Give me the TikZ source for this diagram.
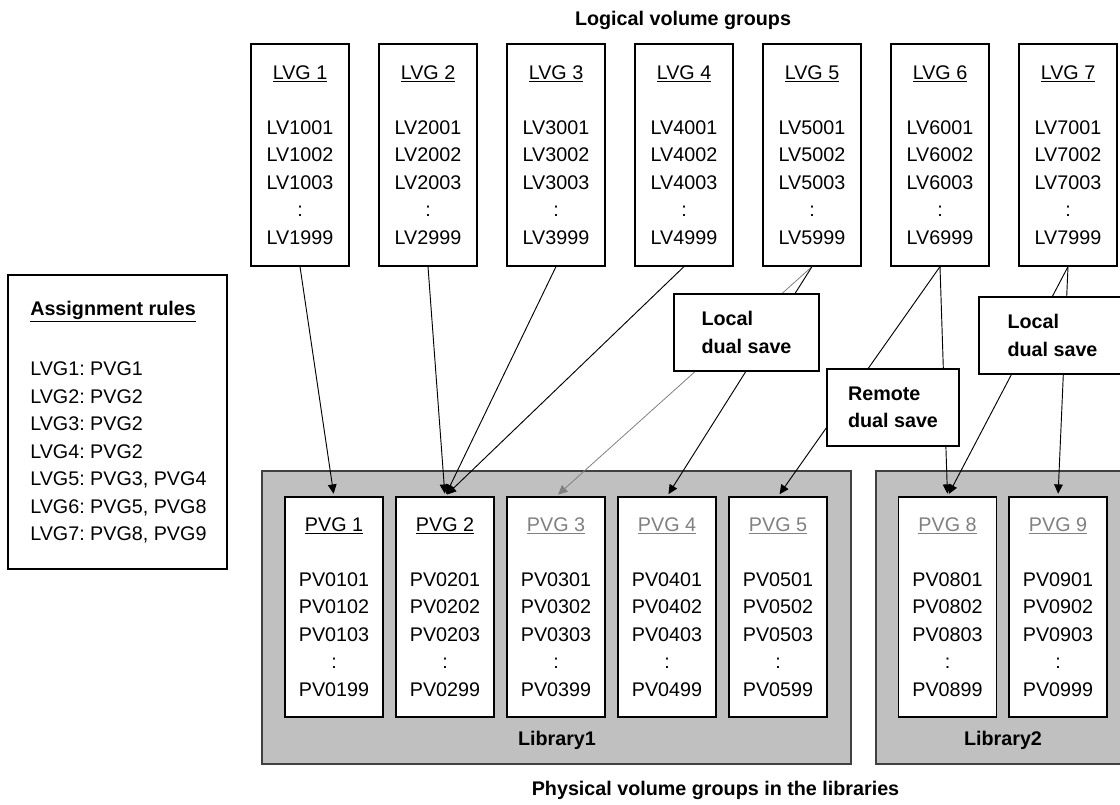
\documentclass[tikz,border=0pt]{standalone}
\usepackage{fontspec}
\setmainfont{Liberation Sans}
\usepackage{tikz}
\usetikzlibrary{arrows.meta}
\definecolor{libgrey}{RGB}{192,192,192}
\colorlet{libedge}{black!75}
\colorlet{pvgrey}{black!50}
\frenchspacing

\begin{document}
\begin{tikzpicture}[x=0.75pt,y=-0.75pt,
        txt/.style={font=\fontsize{14.8}{20.6}\selectfont},
        bold/.style={font=\fontsize{14.8}{20.6}\selectfont\bfseries},
        vgbox/.style={txt, draw, fill=white, line width=0.9pt, align=center, inner sep=0pt, minimum width=73.5pt},
        lvbox/.style={vgbox, minimum height=166.5pt},
        pvbox/.style={vgbox, minimum height=165pt},
        notebox/.style={bold, draw, fill=white, line width=1.7pt, align=left, inner sep=0pt, minimum height=57.75pt},
        conn/.style={-{Triangle[length=7pt,width=6.5pt]}, line width=0.7pt, shorten >=2pt}]
        \useasboundingbox (0,0) rectangle (1120,805);
        \node[bold] (lvtitle) at (683,20) {Logical volume groups};
        \foreach \i in {1,...,7}{
            \node[lvbox] (lvg\i) at (300+128*\i-128,155) {\underline{LVG \i}\\[20.6pt]LV\i001\\LV\i002\\LV\i003\\:\\LV\i999};
        }
        \node[draw, line width=0.9pt, inner sep=0pt, minimum width=164.25pt, minimum height=220.5pt] (rules) at (117.5,422) {};
        \node[txt, align=left, inner sep=0pt, anchor=west] (rulestext) at (30,422) {\underline{\textbf{Assignment rules}}\\[25pt]LVG1: PVG1\\LVG2: PVG2\\LVG3: PVG2\\LVG4: PVG2\\LVG5: PVG3, PVG4\\LVG6: PVG5, PVG8\\LVG7: PVG8, PVG9};
        \draw[libedge, fill=libgrey, line width=0.9pt] (262,471) rectangle (851,764);
        \draw[libedge, fill=libgrey, line width=0.9pt] (876,471) rectangle (1130,764);
        \node[bold] (lib1) at (557,740) {Library1};
        \node[bold] (lib2) at (1003,740) {Library2};
        \foreach \i/\x/\c in {1/334/black, 2/445/black, 3/556/pvgrey, 4/667/pvgrey, 5/778/pvgrey, 8/947.5/pvgrey, 9/1058/pvgrey}{
            \node[pvbox] (pvg\i) at (\x,607) {\textcolor{\c}{\underline{PVG \i}}\\[20.6pt]PV0\i01\\PV0\i02\\PV0\i03\\:\\PV0\i99};
        }
        \node[bold] (pvtitle) at (715.5,790) {Physical volume groups in the libraries};
        \draw[conn] (lvg1.south) -- (pvg1.north);
        \foreach \i in {2,3,4}{
            \draw[conn] (lvg\i.south) -- (pvg2.north);
        }
        \draw[conn, pvgrey, line width=0.6pt] (lvg5.south) -- (pvg3.north);
        \draw[conn] (lvg5.south) -- (pvg4.north);
        \draw[conn] (lvg6.south) -- (pvg5.north);
        \draw[conn] (lvg6.south) -- (pvg8.north);
        \draw[conn] (lvg7.south) -- (pvg8.north);
        \draw[conn] (lvg7.south) -- (pvg9.north);
        \node[notebox, minimum width=108.75pt] (local1) at (746.5,332.5) {Local\\dual save};
        \node[notebox, minimum width=99pt] (remote) at (893,407.5) {Remote\\dual save};
        \node[notebox, minimum width=110pt] (local2) at (1052.5,335.5) {Local\\dual save};
    \end{tikzpicture}
\end{document}
